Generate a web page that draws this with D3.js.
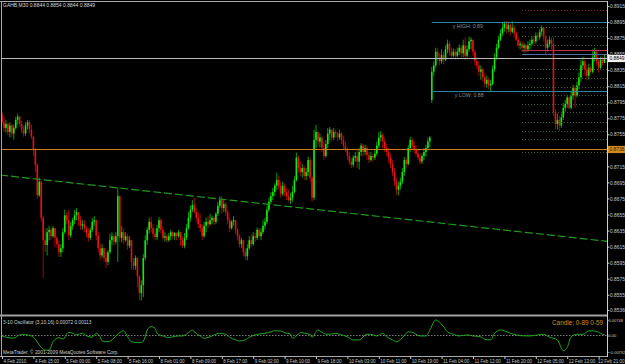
<!DOCTYPE html>
<html><head><meta charset="utf-8">
<script src="https://cdn.jsdelivr.net/npm/d3@7/dist/d3.min.js"></script>
<style>
html,body{margin:0;padding:0;background:#000;}
svg{display:block;}
text{font-family:"Liberation Sans",Arial,sans-serif;}
</style></head><body>
<svg id="c" width="625" height="364"></svg>
<script>
// ---------- DATA (prices in 1/10000 units) ----------
const symbol = "GAHB,M30";
const open = [
8780,8770,8763,8768,8758,8766,8756,8763,8773,8777,
8768,8761,8756,8766,8770,8761,8752,8736,8717,8679,
8696,8651,8623,8617,8633,8636,8628,8638,8626,8618,
8608,8613,8633,8654,8648,8629,8641,8648,8654,8658,
8648,8641,8643,8638,8632,8626,8636,8646,8648,8629,
8613,8604,8613,8601,8596,8608,8623,8628,8621,8628,
8678,8626,8633,8623,8628,8616,8623,8596,8591,8601,
8578,8557,8567,8601,8623,8636,8646,8638,8631,8627,
8638,8648,8636,8626,8628,8623,8628,8633,8628,8632,
8628,8633,8623,8616,8626,8638,8651,8661,8667,8658,
8651,8643,8638,8628,8641,8646,8643,8648,8651,8646,
8656,8666,8673,8663,8668,8658,8648,8638,8646,8648,
8636,8628,8618,8623,8608,8603,8613,8623,8618,8628,
8626,8636,8628,8633,8641,8646,8661,8671,8678,8683,
8691,8698,8691,8681,8691,8683,8678,8673,8676,8683,
8698,8726,8713,8708,8713,8703,8708,8723,8701,8676,
8748,8758,8746,8751,8738,8728,8743,8756,8761,8751,
8758,8756,8751,8756,8748,8741,8736,8728,8721,8717,
8726,8728,8721,8733,8741,8733,8738,8729,8723,8728,
8726,8731,8741,8751,8754,8746,8738,8733,8726,8718,
8708,8696,8686,8691,8696,8708,8723,8718,8738,8748,
8741,8736,8731,8726,8721,8728,8733,8738,8746,8798,
8833,8841,8858,8851,8846,8854,8848,8861,8868,8858,
8853,8858,8853,8858,8863,8856,8866,8853,8861,8871,
8873,8858,8846,8841,8833,8836,8826,8818,8823,8816,
8818,8836,8851,8863,8873,8881,8888,8893,8886,8891,
8883,8888,8881,8873,8866,8868,8863,8866,8861,8866,
8868,8873,8871,8878,8876,8883,8888,8876,8863,8868,
8873,8868,8783,8768,8773,8766,8776,8788,8793,8801,
8788,8803,8813,8803,8816,8826,8841,8846,8836,8828,
8838,8833,8851,8858,8846,8838,8848,8844];
const high = [
8783,8776,8773,8770,8770,8768,8767,8777,8781,8778,
8772,8766,8770,8773,8772,8767,8753,8738,8719,8701,
8698,8654,8638,8638,8641,8639,8641,8638,8628,8623,
8618,8638,8661,8658,8661,8646,8651,8661,8663,8658,
8653,8648,8648,8641,8638,8639,8651,8653,8648,8633,
8619,8618,8613,8608,8611,8631,8633,8631,8633,8688,
8679,8641,8638,8633,8631,8628,8623,8601,8604,8602,
8579,8573,8606,8629,8639,8651,8652,8643,8638,8642,
8652,8651,8641,8633,8631,8632,8636,8634,8633,8633,
8636,8633,8628,8632,8643,8658,8666,8673,8676,8663,
8658,8656,8643,8646,8651,8653,8656,8654,8653,8658,
8671,8678,8678,8673,8671,8661,8651,8648,8653,8648,
8638,8631,8626,8623,8613,8618,8628,8631,8633,8632,
8639,8638,8638,8648,8651,8666,8676,8683,8688,8694,
8707,8703,8696,8696,8694,8688,8686,8682,8691,8703,
8732,8729,8721,8718,8716,8713,8727,8726,8703,8761,
8767,8758,8756,8753,8746,8748,8763,8764,8761,8763,
8761,8758,8761,8758,8753,8746,8739,8733,8726,8729,
8733,8736,8738,8744,8743,8742,8741,8733,8733,8731,
8736,8746,8758,8759,8757,8751,8743,8738,8731,8723,
8713,8701,8696,8701,8713,8727,8726,8742,8752,8751,
8746,8741,8736,8731,8731,8738,8742,8751,8753,8839,
8846,8863,8863,8856,8861,8858,8866,8873,8871,8863,
8862,8861,8863,8867,8866,8873,8876,8866,8877,8876,
8873,8861,8851,8846,8841,8838,8831,8828,8826,8823,
8841,8856,8868,8878,8886,8894,8896,8896,8894,8893,
8896,8891,8883,8876,8871,8871,8869,8868,8871,8873,
8877,8878,8882,8882,8886,8891,8888,8878,8873,8878,
8876,8876,8786,8781,8778,8781,8794,8798,8803,8802,
8808,8817,8816,8821,8832,8848,8852,8848,8841,8843,
8841,8861,8863,8861,8848,8852,8852,8854];
const low = [
8768,8758,8757,8754,8751,8751,8748,8761,8767,8764,
8756,8752,8753,8761,8756,8749,8728,8708,8675,8677,
8646,8576,8608,8604,8623,8623,8626,8614,8613,8602,
8602,8608,8631,8643,8623,8626,8636,8643,8648,8641,
8636,8636,8633,8626,8621,8623,8633,8641,8623,8608,
8598,8601,8596,8589,8592,8606,8617,8616,8618,8596,
8621,8620,8618,8621,8611,8613,8586,8586,8586,8564,
8548,8548,8552,8598,8617,8631,8633,8626,8623,8623,
8633,8631,8623,8621,8620,8621,8623,8624,8623,8623,
8626,8616,8613,8613,8623,8636,8646,8658,8656,8646,
8638,8633,8623,8626,8633,8638,8641,8643,8642,8643,
8653,8663,8656,8658,8653,8643,8633,8636,8641,8631,
8623,8614,8613,8603,8598,8598,8611,8614,8616,8621,
8623,8626,8623,8631,8636,8643,8658,8668,8673,8678,
8686,8686,8676,8678,8678,8673,8671,8668,8671,8681,
8696,8707,8703,8701,8698,8698,8703,8696,8671,8673,
8738,8741,8739,8733,8723,8726,8738,8748,8746,8748,
8751,8746,8748,8743,8736,8733,8723,8717,8713,8714,
8721,8713,8711,8728,8727,8729,8723,8719,8721,8721,
8723,8728,8738,8746,8738,8733,8728,8719,8713,8703,
8691,8679,8679,8686,8693,8703,8713,8716,8733,8736,
8731,8727,8723,8718,8718,8723,8727,8736,8739,8794,
8828,8838,8846,8841,8843,8842,8846,8856,8853,8848,
8851,8848,8851,8854,8851,8851,8848,8851,8858,8861,
8853,8841,8836,8828,8823,8821,8814,8813,8811,8809,
8816,8833,8848,8861,8871,8878,8883,8881,8882,8878,
8881,8876,8871,8863,8861,8858,8857,8857,8858,8861,
8866,8866,8868,8871,8873,8878,8871,8854,8858,8864,
8861,8778,8761,8761,8759,8763,8773,8783,8788,8786,
8786,8798,8788,8801,8811,8821,8836,8828,8823,8823,
8831,8831,8846,8841,8832,8835,8841,8844];
const close = [
8770,8763,8768,8758,8766,8756,8763,8773,8777,8768,
8761,8756,8766,8770,8761,8752,8736,8717,8679,8696,
8651,8623,8617,8633,8636,8628,8638,8626,8618,8608,
8613,8633,8654,8648,8629,8641,8648,8654,8658,8648,
8641,8643,8638,8632,8626,8636,8646,8648,8629,8613,
8604,8613,8601,8596,8608,8623,8628,8621,8628,8678,
8626,8633,8623,8628,8616,8623,8596,8591,8601,8578,
8557,8567,8601,8623,8636,8646,8638,8631,8627,8638,
8648,8636,8626,8628,8623,8628,8633,8628,8632,8628,
8633,8623,8616,8626,8638,8651,8661,8667,8658,8651,
8643,8638,8628,8641,8646,8643,8648,8651,8646,8656,
8666,8673,8663,8668,8658,8648,8638,8646,8648,8636,
8628,8618,8623,8608,8603,8613,8623,8618,8628,8626,
8636,8628,8633,8641,8646,8661,8671,8678,8683,8691,
8698,8691,8681,8691,8683,8678,8673,8676,8683,8698,
8726,8713,8708,8713,8703,8708,8723,8701,8676,8748,
8758,8746,8751,8738,8728,8743,8756,8761,8751,8758,
8756,8751,8756,8748,8741,8736,8728,8721,8717,8726,
8728,8721,8733,8741,8733,8738,8729,8723,8728,8726,
8731,8741,8751,8754,8746,8738,8733,8726,8718,8708,
8696,8686,8691,8696,8708,8723,8718,8738,8748,8741,
8736,8731,8726,8721,8728,8733,8738,8746,8751,8833,
8841,8858,8851,8846,8854,8848,8861,8868,8858,8853,
8858,8853,8858,8863,8856,8866,8853,8861,8871,8873,
8858,8846,8841,8833,8836,8826,8818,8823,8816,8818,
8836,8851,8863,8873,8881,8888,8893,8886,8891,8883,
8888,8881,8873,8866,8868,8863,8866,8861,8866,8868,
8873,8871,8878,8876,8883,8888,8876,8863,8868,8873,
8868,8783,8768,8773,8766,8776,8788,8793,8801,8788,
8803,8813,8803,8816,8826,8841,8846,8836,8828,8838,
8833,8851,8858,8846,8838,8848,8844,8849];
const PRICE_UNIT = 10000;

const timeLabels = ["4 Feb 2010","4 Feb 15:00","5 Feb 00:00","5 Feb 08:00","5 Feb 16:00","8 Feb 01:00","8 Feb 09:00","8 Feb 17:00","9 Feb 02:00","9 Feb 10:00","9 Feb 18:00","10 Feb 03:00","10 Feb 11:00","10 Feb 19:00","11 Feb 04:00","11 Feb 12:00","11 Feb 20:00","12 Feb 05:00","12 Feb 13:00","12 Feb 21:00"];
const barsPerLabel = 16;
const priceTicks = [0.8536,0.8555,0.8575,0.8595,0.8615,0.8635,0.8655,0.8675,0.8695,0.8715,0.8735,0.8755,0.8775,0.8795,0.8815,0.8835,0.8855,0.8875,0.8895,0.8915];
const priceMin = 0.8536, priceMax = 0.8915;

const oscBar = [0,3,6,8,10,13,15,17,19,22,24,26,29,31,34,36,38,41,43,46,48,50,51,54,57,59,60,62,64,66,69,71,73,74,76,78,79,82,85,87,90,92,95,97,98,101,103,106,109,111,114,116,119,121,124,126,129,131,134,137,139,142,144,147,148,150,152,154,157,158,161,162,165,167,170,172,176,179,182,186,189,191,194,196,199,201,204,207,209,213,216,218,221,222,225,227,230,233,237,240,244,246,249,251,254,256,259,262,265,269,273,276,279,283,286,288,290,293,296,299,301,304,306,307];
const oscVal = [-0.0002,-0.0010,-0.0012,-0.0002,0.0006,0.0003,-0.0002,-0.0017,-0.0046,-0.0070,-0.0070,-0.0030,-0.0010,-0.0017,0.0016,0.0011,0.0003,0.0011,-0.0001,-0.0008,0.0011,-0.0006,-0.0026,-0.0030,-0.0013,0.0006,0.0014,0.0023,-0.0006,-0.0030,-0.0034,-0.0034,-0.0006,0.0027,0.0043,0.0035,0.0011,-0.0002,-0.0010,-0.0006,-0.0002,-0.0002,0.0014,0.0027,0.0018,-0.0002,-0.0013,-0.0006,0.0007,0.0011,0.0006,-0.0008,-0.0021,-0.0026,-0.0021,-0.0008,0.0003,0.0007,0.0011,0.0018,0.0023,0.0022,0.0014,0.0006,-0.0013,-0.0002,0.0014,0.0012,0.0005,-0.0008,0.0027,0.0022,0.0007,0.0006,0.0011,0.0006,-0.0006,-0.0021,-0.0021,0.0007,0.0003,-0.0002,0.0011,-0.0006,-0.0021,-0.0030,-0.0010,0.0018,0.0016,-0.0002,-0.0002,0.0027,0.0075,0.0071,0.0043,0.0018,0.0006,-0.0002,0.0003,-0.0002,-0.0006,-0.0018,-0.0021,0.0011,0.0027,0.0023,0.0011,0.0003,-0.0001,-0.0002,0.0003,0.0006,-0.0008,-0.0021,-0.0073,-0.0057,-0.0006,0.0006,0.0006,0.0022,0.0023,0.0016,0.0006,0.0003];
const oscTicks = [0.00748, 0, -0.00792];
const oscTitle = "3-10 Oscillator (3,10,16) 0.00072 0.00113";

const bidPrice = 0.8849;
const orangeLevel = 0.8736;
const yHighLevel = 0.8895, yLowLevel = 0.8809;
const yLevelStartBar = 219;
const redLevel = 0.8860, blueLevel = 0.8855;
const dottedLevels = [0.8909,0.8888,0.8877,0.8866,0.8836,0.8825,0.8814,0.8803,0.8792,0.8782,0.8770,0.8759,0.8748,0.8732];
const levelStartBar = 265;
const trendBars = [0, 307];
const trendPrices = [0.8704, 0.8622];
const candleText = "Candle: 0-89 0-59";
const copyright = "MetaTrader, \u00A9 2001-2009 MetaQuotes Software Corp.";

// ---------- LAYOUT ----------
const W = 625, H = 364;
const axisX = 607;
const mainTop = 1, mainBot = 314;
const oscTop = 317, oscBot = 356;
const n = close.length;
const svg = d3.select("#c");
svg.append("rect").attr("width",W).attr("height",H).attr("fill","#000");

const x = d3.scaleLinear().domain([0, n-1]).range([2, 2 + (n-1)*1.9625]);
const y = d3.scaleLinear().domain([priceMin, priceMax]).range([310, 6]);
const yo = d3.scaleLinear().domain([-0.00792, 0.00748]).range([352, 320]);
const P = v => v / PRICE_UNIT;
const crisp = v => Math.round(v - 0.5) + 0.5;

const defs = svg.append("defs");
defs.append("clipPath").attr("id","mainClip").append("rect")
  .attr("x",2).attr("y",mainTop+1).attr("width",axisX-2).attr("height",mainBot-mainTop-1);
defs.append("clipPath").attr("id","oscClip").append("rect")
  .attr("x",2).attr("y",oscTop).attr("width",axisX-2).attr("height",oscBot-oscTop);

const main = svg.append("g").attr("clip-path","url(#mainClip)");

// candles
const bull = "#12e812", bear = "#e81212";
const bars = d3.range(n).map(i => ({i, o:P(open[i]), h:P(high[i]), l:P(low[i]), c:P(close[i])}));
const cg = main.append("g");
cg.selectAll("line.wick").data(bars).join("line")
  .attr("x1", d => x(d.i)).attr("x2", d => x(d.i))
  .attr("y1", d => y(d.h)).attr("y2", d => y(d.l))
  .attr("stroke", d => d.c >= d.o ? bull : bear).attr("stroke-width", 0.8).attr("opacity",0.85);
cg.selectAll("rect.body").data(bars).join("rect")
  .attr("x", d => x(d.i) - 0.8).attr("width", 1.6)
  .attr("y", d => y(Math.max(d.o, d.c)))
  .attr("height", d => Math.max(0.8, Math.abs(y(d.o) - y(d.c))))
  .attr("fill", d => d.c >= d.o ? bull : bear);

// horizontal objects
const hline = (g, p, x1, color, w, dash) => g.append("line")
  .attr("x1", x1).attr("x2", axisX).attr("y1", crisp(y(p))).attr("y2", crisp(y(p)))
  .attr("stroke", color).attr("stroke-width", w).attr("stroke-dasharray", dash || null);

dottedLevels.forEach((p, k) => hline(main, p, x(levelStartBar), k === 0 ? "#902828" : "#3f5c3f", 1, "1,2"));
hline(main, redLevel, x(levelStartBar), "#c0304a", 1);
hline(main, blueLevel, x(levelStartBar), "#4d6aa0", 1);
hline(main, yHighLevel, x(yLevelStartBar), "#2c8898", 1);
hline(main, yLowLevel, x(yLevelStartBar), "#2c8898", 1);
hline(main, bidPrice, 0, "#b8b8b8", 1);
hline(main, orangeLevel, 0, "#d07a14", 1);

main.append("text").attr("x", x(yLevelStartBar) + 21).attr("y", y(yHighLevel) + 6)
  .attr("font-size", 5.2).attr("fill", "#8c8c8c").text("y HIGH: " + yHighLevel.toFixed(2));
main.append("text").attr("x", x(yLevelStartBar) + 23).attr("y", y(yLowLevel) + 6)
  .attr("font-size", 5.2).attr("fill", "#8c8c8c").text("y LOW: " + yLowLevel.toFixed(2));

// trend line (extended to the panel edges)
const tSlope = (trendPrices[1]-trendPrices[0])/(trendBars[1]-trendBars[0]);
const tAt = b => trendPrices[0] + tSlope*(b - trendBars[0]);
const bLeft = x.invert(0), bRight = x.invert(axisX);
main.append("line")
  .attr("x1", x(bLeft)).attr("y1", y(tAt(bLeft)))
  .attr("x2", x(bRight)).attr("y2", y(tAt(bRight)))
  .attr("stroke", "#1f9a1f").attr("stroke-width", 1.2).attr("stroke-dasharray", "8,3");

// title
const f4 = d3.format(".4f");
svg.append("text").attr("x", 3).attr("y", 7).attr("font-size", 5).attr("fill", "#d8d8d8")
  .text(`${symbol}  ${f4(P(open[n-1]))} ${f4(P(high[n-1]))} ${f4(P(low[n-1]))} ${f4(P(close[n-1]))}`);

// ---------- oscillator ----------
const osc = svg.append("g").attr("clip-path","url(#oscClip)");
osc.append("line").attr("x1",2).attr("x2",axisX).attr("y1",crisp(yo(0))).attr("y2",crisp(yo(0)))
  .attr("stroke","#9a9a9a").attr("stroke-width",0.8).attr("stroke-dasharray","1.5,1.5");
const oscPts = oscBar.map((b,k)=>({b, v:oscVal[k]}));
osc.append("path").datum(oscPts)
  .attr("d", d3.line().x(d=>x(d.b)).y(d=>yo(d.v)).curve(d3.curveMonotoneX))
  .attr("fill","none").attr("stroke","#1fa81f").attr("stroke-width",1);
svg.append("text").attr("x",3).attr("y",324).attr("font-size",4.8).attr("fill","#d0d0d0").text(oscTitle);
svg.append("text").attr("x",552).attr("y",324.5).attr("font-size",6.4).attr("fill","#d48a1e").text(candleText);
svg.append("text").attr("x",3).attr("y",353.5).attr("font-size",4.8).attr("fill","#d0d0d0").text(copyright);

// ---------- frames ----------
const fr = svg.append("g").attr("stroke","#a8a8a8").attr("stroke-width",1);
fr.append("line").attr("x1",0).attr("x2",axisX).attr("y1",1.5).attr("y2",1.5);
fr.append("line").attr("x1",1.5).attr("x2",1.5).attr("y1",1).attr("y2",oscBot);
fr.append("line").attr("x1",0).attr("x2",axisX).attr("y1",oscBot+0.5).attr("y2",oscBot+0.5);
svg.append("rect").attr("x",0).attr("y",mainBot+0.5).attr("width",axisX).attr("height",2).attr("fill","#a0a0a0");
svg.append("line").attr("x1",axisX+0.5).attr("x2",axisX+0.5).attr("y1",1).attr("y2",oscBot+1)
  .attr("stroke","#d0d0d0").attr("stroke-width",1);

// ---------- axes ----------
const styleAxis = (g, fs) => {
  g.select(".domain").remove();
  g.selectAll(".tick line").attr("stroke","#c8c8c8");
  g.selectAll(".tick text").attr("fill","#c8c8c8").attr("font-size",fs)
    .attr("font-family","'Liberation Sans',Arial,sans-serif");
};
const yAxis = svg.append("g").attr("transform",`translate(${axisX+0.5},0)`)
  .call(d3.axisRight(y).tickValues(priceTicks).tickSize(2).tickPadding(0.5).tickFormat(f4));
styleAxis(yAxis, 4.9);

const oAxis = svg.append("g").attr("transform",`translate(${axisX+0.5},0)`)
  .call(d3.axisRight(yo).tickValues(oscTicks).tickSize(1).tickPadding(0)
    .tickFormat(v => v === 0 ? "0.00" : d3.format(".5f")(v)));
styleAxis(oAxis, 4.0);

const tickIdx = timeLabels.map((_, k) => k * barsPerLabel);
const xAxis = svg.append("g").attr("transform",`translate(0,${oscBot+0.5})`)
  .call(d3.axisBottom(x).tickValues(tickIdx).tickSize(2.5).tickPadding(0.5)
    .tickFormat((d,k) => timeLabels[k]));
styleAxis(xAxis, 4.5);
xAxis.selectAll(".tick text").attr("text-anchor","start").attr("x",1)
  .each(function(d){
    const len = this.getComputedTextLength();
    const over = x(d) + 1 + len - (W - 1);
    if (over > 0) d3.select(this).attr("x", 1 - over);
  });

// price boxes
const box = (p, bg, fg) => {
  const g = svg.append("g").attr("transform",`translate(${axisX+1},${crisp(y(p))})`);
  g.append("rect").attr("x",0).attr("y",-3.6).attr("width",17).attr("height",7.2).attr("fill",bg);
  g.append("text").attr("x",1.5).attr("y",1.8).attr("font-size",4.9).attr("fill",fg).text(f4(p));
};
box(bidPrice, "#f0f0f0", "#000");
box(orangeLevel, "#d48a1e", "#2a1a00");
</script>
</body></html>
